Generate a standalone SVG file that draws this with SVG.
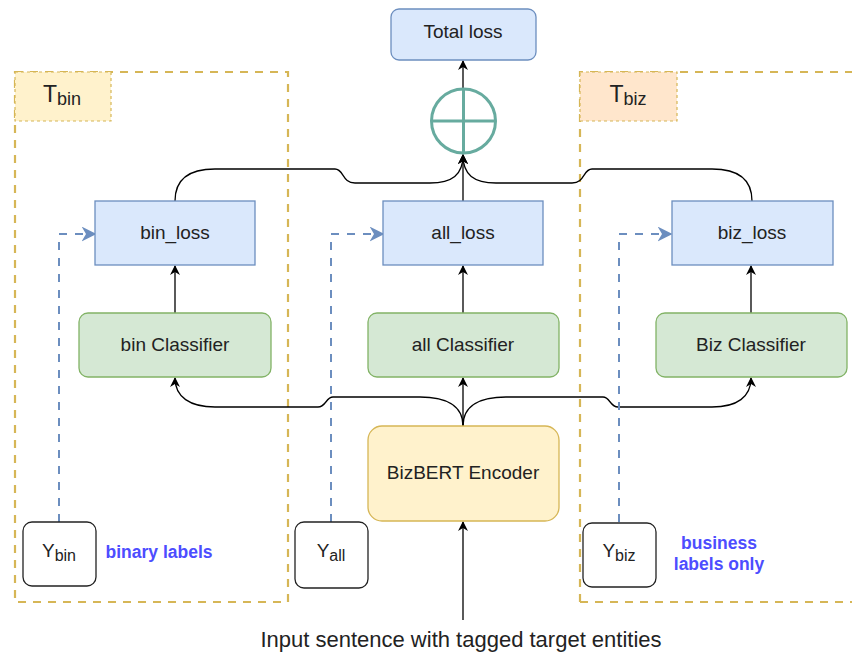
<svg xmlns="http://www.w3.org/2000/svg" width="852" height="655" viewBox="0 0 852 655">
<defs>
<style>
.t{font-family:"Liberation Sans",Arial,sans-serif;font-size:19px;fill:#222;text-anchor:middle}
.blue{fill:#dae8fc;stroke:#6c8ebf;stroke-width:1.3}
.green{fill:#d5e8d4;stroke:#82b366;stroke-width:1.3}
.yel{fill:#fff2cc;stroke:#d6b656;stroke-width:1.3}
.white{fill:#fff;stroke:#222;stroke-width:1.3}
.cont{fill:none;stroke:#d6b656;stroke-width:2.2;stroke-dasharray:8 7}
.lbl{stroke:#d6b656;stroke-width:1.2;stroke-dasharray:3 3}
.edge{fill:none;stroke:#000;stroke-width:1.3}
.bdash{fill:none;stroke:#6c8ebf;stroke-width:2;stroke-dasharray:8 8}
.note{font-family:"Liberation Sans",Arial,sans-serif;font-size:17.5px;font-weight:bold;fill:#4d4dff;text-anchor:middle}
</style>
<marker id="ah" viewBox="0 0 10 10" refX="9" refY="5" markerWidth="10" markerHeight="10" markerUnits="userSpaceOnUse" orient="auto">
<path d="M0,0 L10,5 L0,10 L3,5 Z" fill="#000"/>
</marker>
<marker id="bh" viewBox="0 0 10 10" refX="9" refY="5" markerWidth="15" markerHeight="15" markerUnits="userSpaceOnUse" orient="auto">
<path d="M0,0 L10,5 L0,10 L3,5 Z" fill="#6c8ebf"/>
</marker>
</defs>
<g id="containers">
<rect x="15" y="72" width="273" height="530" class="cont"/>
<path d="M580,602 L580,72 L860,72 M580,602 L860,602" class="cont"/>
</g>
<g id="T_bin">
<rect x="15" y="72" width="96" height="49" fill="#fff2cc" class="lbl"/>
<text x="62" y="102" class="t" style="font-size:23px">T<tspan style="font-size:18px" dy="3">bin</tspan></text>
</g>
<g id="T_biz">
<rect x="580" y="72" width="97" height="49" fill="#ffe6cc" class="lbl"/>
<text x="628" y="102" class="t" style="font-size:23px">T<tspan style="font-size:18px" dy="3">biz</tspan></text>
</g>
<g id="connectors">
<path d="M463,620 L463,522" class="edge" marker-end="url(#ah)"/>
<path d="M463,426 L463,378" class="edge" marker-end="url(#ah)"/>
<path d="M463,426 C463,405 445,397 420,397 L333,397 C326,397 326,407 318,407 L215,407 C190,407 175,397 175,378" class="edge" marker-end="url(#ah)"/>
<path d="M463,426 C463,405 481,397 506,397 L603,397 C610,397 610,407 618,407 L712,407 C737,407 751,397 751,378" class="edge" marker-end="url(#ah)"/>
<path d="M175,313 L175,266" class="edge" marker-end="url(#ah)"/>
<path d="M463,313 L463,266" class="edge" marker-end="url(#ah)"/>
<path d="M751,313 L751,266" class="edge" marker-end="url(#ah)"/>
<path d="M463,201 L463,155" class="edge" marker-end="url(#ah)"/>
<path d="M175,201 C175,178 190,169 215,169 L335,169 C344,169 342,183 355,183 L430,183 C452,183 463,175 463,155" class="edge" marker-end="url(#ah)"/>
<path d="M752,201 C752,178 737,169 712,169 L592,169 C583,169 585,183 572,183 L496,183 C474,183 463,175 463,155" class="edge" marker-end="url(#ah)"/>
<path d="M463,88 L463,61" class="edge" marker-end="url(#ah)"/>
<path d="M59,522 L59,234 L95,234" class="bdash" marker-end="url(#bh)"/>
<path d="M331,522 L331,234 L383,234" class="bdash" marker-end="url(#bh)"/>
<path d="M619,522 L619,234 L671,234" class="bdash" marker-end="url(#bh)"/>
</g>
<g id="total_loss">
<rect x="391" y="9" width="145" height="51" rx="8" class="blue"/>
<text x="463" y="38" class="t">Total loss</text>
</g>
<g id="sum">
<circle cx="463.5" cy="121" r="32" fill="#fff" stroke="#67ab9f" stroke-width="3"/>
<path d="M431.5,121 H495.5 M463.5,89 V153" stroke="#67ab9f" stroke-width="3"/>
</g>
<g id="bin_loss">
<rect x="95" y="201" width="160" height="64" class="blue"/>
<text x="175" y="239" class="t">bin_loss</text>
</g>
<g id="all_loss">
<rect x="383" y="201" width="160" height="64" class="blue"/>
<text x="463" y="239" class="t">all_loss</text>
</g>
<g id="biz_loss">
<rect x="672" y="201" width="161" height="64" class="blue"/>
<text x="752" y="239" class="t">biz_loss</text>
</g>
<g id="bin_classifier">
<rect x="79" y="313" width="192" height="64" rx="9" class="green"/>
<text x="175" y="351" class="t">bin Classifier</text>
</g>
<g id="all_classifier">
<rect x="368" y="313" width="191" height="64" rx="9" class="green"/>
<text x="463" y="351" class="t">all Classifier</text>
</g>
<g id="biz_classifier">
<rect x="656" y="313" width="191" height="64" rx="9" class="green"/>
<text x="751" y="351" class="t">Biz Classifier</text>
</g>
<g id="encoder">
<rect x="368" y="426" width="191" height="95" rx="14" class="yel"/>
<text x="463" y="479" class="t">BizBERT Encoder</text>
</g>
<g id="Y_bin">
<rect x="23" y="522" width="73" height="64" rx="9" class="white"/>
<text x="59" y="557" class="t" style="font-size:19px">Y<tspan style="font-size:16px" dy="4">bin</tspan></text>
</g>
<g id="Y_all">
<rect x="295" y="522" width="73" height="66" rx="9" class="white"/>
<text x="331" y="557" class="t" style="font-size:19px">Y<tspan style="font-size:16px" dy="4">all</tspan></text>
</g>
<g id="Y_biz">
<rect x="583" y="523" width="73" height="64" rx="9" class="white"/>
<text x="619" y="557" class="t" style="font-size:19px">Y<tspan style="font-size:16px" dy="4">biz</tspan></text>
</g>
<g id="notes">
<text x="159" y="558" class="note">binary labels</text>
<text x="719" y="549" class="note">business</text>
<text x="719" y="570" class="note">labels only</text>
</g>
<g id="input">
<text x="461" y="647" class="t" style="font-size:22px">Input sentence with tagged target entities</text>
</g>
</svg>
